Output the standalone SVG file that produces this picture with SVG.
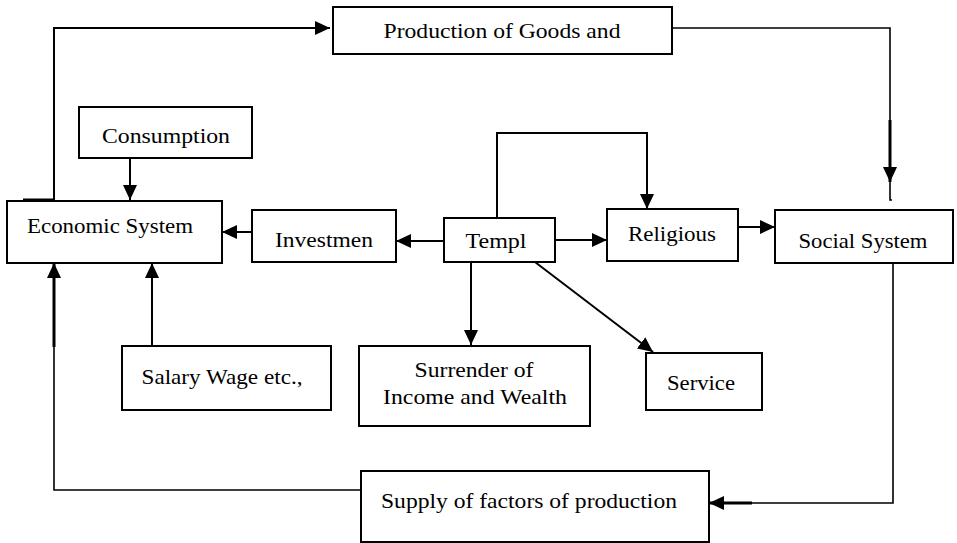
<svg xmlns="http://www.w3.org/2000/svg" width="957" height="543" viewBox="0 0 957 543">
<style>
.box{fill:#fff;stroke:#000;stroke-width:2}
.t{font-family:"Liberation Serif","Times New Roman",serif;font-size:21px;fill:#000;text-anchor:middle}
.c{fill:none;stroke:#000;stroke-width:2}
.thin{fill:none;stroke:#000;stroke-width:1.6}
.thick{fill:none;stroke:#000;stroke-width:3}
</style>
<defs>
<marker id="ah" markerUnits="userSpaceOnUse" markerWidth="16" markerHeight="16" viewBox="0 0 16 16" refX="15" refY="8" orient="auto">
<path d="M0,1 L15,8 L0,15 Z" fill="#000"/>
</marker>
</defs>
<rect width="957" height="543" fill="#fff"/>
<g id="connectors">
<path class="c" d="M54,200 V28 H330" marker-end="url(#ah)"/>
<path class="thick" d="M23,200 H54"/>
<path class="c" d="M130,158 V200" marker-end="url(#ah)"/>
<path class="c" d="M252,232 H222" marker-end="url(#ah)"/>
<path class="c" d="M444,241 H396" marker-end="url(#ah)"/>
<path class="c" d="M555,240 H607" marker-end="url(#ah)"/>
<path class="c" d="M497,218 V133 H647 V209" marker-end="url(#ah)"/>
<path class="c" d="M738,227 H775" marker-end="url(#ah)"/>
<path class="thin" d="M672,28 H890 V120"/>
<path class="thick" d="M890,120 V182" marker-end="url(#ah)"/>
<path class="thin" d="M890,182 V200 H892"/>
<path class="thin" d="M893,263 V503 H752"/>
<path class="thick" d="M752,503 H709" marker-end="url(#ah)"/>
<path class="thin" d="M361,490 H54 V347"/>
<path class="thick" d="M54,347 V263" marker-end="url(#ah)"/>
<path class="c" d="M152,346 V263" marker-end="url(#ah)"/>
<path class="c" d="M471,262 V345" marker-end="url(#ah)"/>
<path class="c" d="M535,262 L653,352" marker-end="url(#ah)"/>
</g>
<g id="production"><rect class="box" x="333" y="7" width="339" height="47"/><text class="t" x="502" y="38" textLength="237" lengthAdjust="spacingAndGlyphs">Production of Goods and</text></g>
<g id="consumption"><rect class="box" x="79" y="107" width="173" height="51"/><text class="t" x="166" y="143" textLength="128" lengthAdjust="spacingAndGlyphs">Consumption</text></g>
<g id="economic"><rect class="box" x="7" y="201" width="215" height="62"/><text class="t" x="110" y="233" textLength="166" lengthAdjust="spacingAndGlyphs">Economic System</text></g>
<g id="investment"><rect class="box" x="252" y="210" width="144" height="52"/><text class="t" x="324" y="247" textLength="98" lengthAdjust="spacingAndGlyphs">Investmen</text></g>
<g id="temple"><rect class="box" x="444" y="218" width="111" height="44"/><text class="t" x="496" y="248" textLength="61" lengthAdjust="spacingAndGlyphs">Templ</text></g>
<g id="religious"><rect class="box" x="607" y="209" width="131" height="52"/><text class="t" x="672" y="241" textLength="88" lengthAdjust="spacingAndGlyphs">Religious</text></g>
<g id="social"><rect class="box" x="775" y="210" width="178" height="53"/><text class="t" x="863" y="248" textLength="129" lengthAdjust="spacingAndGlyphs">Social System</text></g>
<g id="salary"><rect class="box" x="122" y="346" width="209" height="64"/><text class="t" x="222" y="384" textLength="161" lengthAdjust="spacingAndGlyphs">Salary Wage etc.,</text></g>
<g id="surrender"><rect class="box" x="359" y="346" width="231" height="80"/><text class="t" x="474" y="377" textLength="119" lengthAdjust="spacingAndGlyphs">Surrender of</text><text class="t" x="475" y="404" textLength="184" lengthAdjust="spacingAndGlyphs">Income and Wealth</text></g>
<g id="service"><rect class="box" x="646" y="353" width="116" height="57"/><text class="t" x="701" y="390" textLength="68" lengthAdjust="spacingAndGlyphs">Service</text></g>
<g id="supply"><rect class="box" x="361" y="471" width="348" height="71"/><text class="t" x="529" y="508" textLength="296" lengthAdjust="spacingAndGlyphs">Supply of factors of production</text></g>
</svg>
